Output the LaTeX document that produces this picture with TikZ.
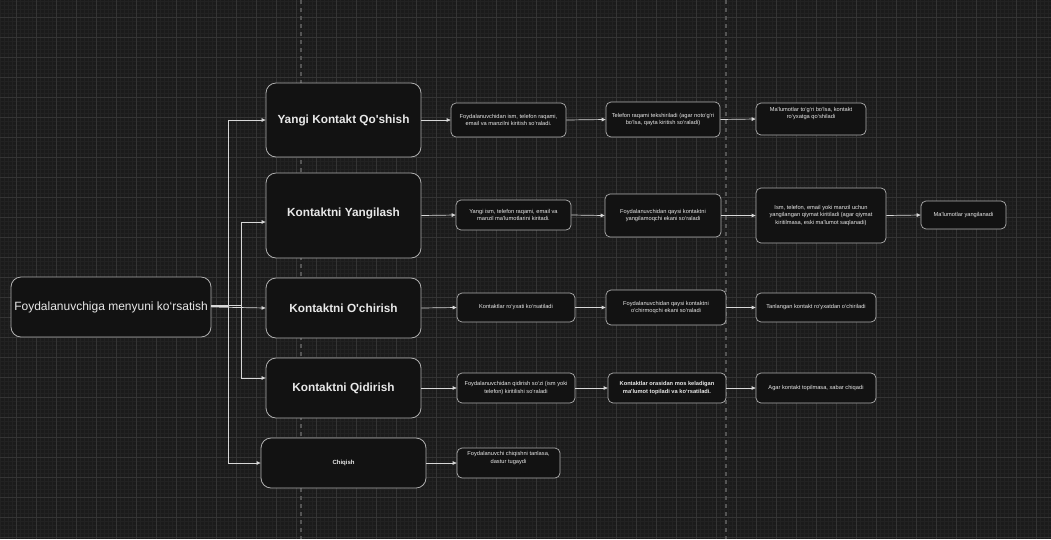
\documentclass[tikz,border=0pt]{standalone}
\usepackage{fontspec}
\setmainfont{Liberation Sans}[Ligatures=TeXOff]
\usetikzlibrary{arrows.meta}
\definecolor{bg}{HTML}{1B1B1B}
\definecolor{gmin}{HTML}{222222}
\definecolor{gmaj}{HTML}{343434}
\definecolor{boxfill}{HTML}{121212}
\definecolor{boxline}{HTML}{B0B0B0}
\definecolor{txt}{HTML}{E8E8E8}
\definecolor{wirec}{HTML}{D8D8D8}
\definecolor{pageline}{HTML}{555555}
\begin{document}
\begin{tikzpicture}[x=1pt,y=-1pt,
 bigbox/.style={draw=boxline, fill=boxfill, rounded corners=10pt, line width=0.8pt, text=txt, font=\bfseries\fontsize{11.8}{14}\selectfont, align=center, inner sep=0pt},
 smallbox/.style={draw=boxline, fill=boxfill, rounded corners=5pt, line width=0.7pt, text=txt, font=\fontsize{5.7}{7.4}\selectfont, align=center, inner sep=0pt},
 wire/.style={draw=wirec, line width=0.7pt, -{Triangle[length=4pt,width=3.5pt]}}]
\fill[bg] (0,0) rectangle (1051,539);
\useasboundingbox (0,0) rectangle (1051,539);
\begin{scope}
\clip (0,0) rectangle (1051,539);
\foreach \i in {0,...,263} {\draw[gmin, line width=0.5pt] (\i*4,0) -- (\i*4,539);}
\foreach \j in {0,...,135} {\draw[gmin, line width=0.5pt] (0,\j*4+1) -- (1051,\j*4+1);}
\foreach \i in {-1,...,52} {\draw[gmaj, line width=1pt] (\i*20+16,0) -- (\i*20+16,539);}
\foreach \j in {-1,...,27} {\draw[gmaj, line width=1pt] (0,\j*20+17) -- (1051,\j*20+17);}
\draw[pageline, line width=1.2pt, dash pattern=on 4pt off 4pt] (301,0) -- (301,539);
\draw[pageline, line width=1.2pt, dash pattern=on 4pt off 4pt] (726,0) -- (726,539);
\end{scope}

\node[bigbox, minimum width=200pt, minimum height=60pt, font=\fontsize{12}{14}\selectfont] (main) at (111,307) {Foydalanuvchiga menyuni ko‘rsatish};
\node[bigbox, minimum width=155pt, minimum height=74pt] (y1) at (343.5,120) {Yangi Kontakt Qo'shish};
\node[bigbox, minimum width=155pt, minimum height=85pt] (y2) at (343.5,215.5) {\raisebox{7pt}{Kontaktni Yangilash}};
\node[bigbox, minimum width=155pt, minimum height=60pt] (y3) at (343.5,308) {Kontaktni O'chirish};
\node[bigbox, minimum width=155pt, minimum height=60pt] (y4) at (343.5,388) {Kontaktni Qidirish};
\node[bigbox, minimum width=165pt, minimum height=50pt, font=\bfseries\fontsize{6}{7}\selectfont] (y5) at (343.5,463) {Chiqish};

\node[smallbox, minimum width=115pt, minimum height=34pt] (a1) at (508.5,120) {Foydalanuvchidan ism, telefon raqami,\\email va manzilni kiritish so‘raladi.};
\node[smallbox, minimum width=114pt, minimum height=35pt] (a2) at (663,119.5) {Telefon raqami tekshiriladi (agar noto‘g‘ri\\bo‘lsa, qayta kiritish so‘raladi)};
\node[smallbox, minimum width=110pt, minimum height=32pt] (a3) at (811,119) {Ma'lumotlar to‘g‘ri bo‘lsa, kontakt\\ro‘yxatga qo‘shiladi\\[5pt]};

\node[smallbox, minimum width=115pt, minimum height=30pt] (b1) at (513.5,215) {Yangi ism, telefon raqami, email va\\manzil ma'lumotlarini kiritadi.};
\node[smallbox, minimum width=116pt, minimum height=43pt] (b2) at (663,215.5) {Foydalanuvchidan qaysi kontaktni\\yangilamoqchi ekani so‘raladi};
\node[smallbox, minimum width=130pt, minimum height=55pt] (b3) at (821,215.5) {Ism, telefon, email yoki manzil uchun\\yangilangan qiymat kiritiladi (agar qiymat\\kiritilmasa, eski ma'lumot saqlanadi)};
\node[smallbox, minimum width=85pt, minimum height=28pt] (b4) at (963.5,215) {Ma'lumotlar yangilanadi};

\node[smallbox, minimum width=118pt, minimum height=29pt] (c1) at (516,307.5) {Kontaktlar ro‘yxati ko‘rsatiladi};
\node[smallbox, minimum width=120pt, minimum height=35pt] (c2) at (666,307.5) {Foydalanuvchidan qaysi kontaktni\\o‘chirmoqchi ekani so‘raladi};
\node[smallbox, minimum width=120pt, minimum height=29pt] (c3) at (816,307.5) {Tanlangan kontakt ro‘yxatdan o‘chiriladi};

\node[smallbox, minimum width=118pt, minimum height=30pt] (d1) at (516,388) {Foydalanuvchidan qidirish so‘zi (ism yoki\\telefon) kiritilishi so‘raladi};
\node[smallbox, minimum width=118pt, minimum height=30pt, font=\bfseries\fontsize{5.7}{7.4}\selectfont] (d2) at (667,388) {Kontaktlar orasidan mos keladigan\\ma'lumot topiladi va ko‘rsatiladi.};
\node[smallbox, minimum width=120pt, minimum height=30pt] (d3) at (816,388) {Agar kontakt topilmasa, xabar chiqadi};

\node[smallbox, minimum width=103pt, minimum height=30pt] (e1) at (508.5,463) {Foydalanuvchi chiqishni tanlasa,\\dastur tugaydi\\[4pt]};

% main fan-out
\draw[wire] ([yshift=1pt]main.east) -- (228,306) |- (y1.west);
\draw[wire] ([yshift=2pt]main.east) -- (241,305) |- ([yshift=-6.5pt]y2.west);
\draw[wire] (main.east) -- (y3.west);
\draw[wire] ([yshift=2pt]main.east) -- (241,305) |- ([yshift=10pt]y4.west);
\draw[wire] ([yshift=1pt]main.east) -- (228,306) |- (y5.west);

% rows
\draw[wire] (y1.east) -- (a1.west);
\draw[wire] (a1.east) -- (a2.west);
\draw[wire] (a2.east) -- (a3.west);
\draw[wire] (y2.east) -- (b1.west);
\draw[wire] (b1.east) -- (b2.west);
\draw[wire] (b2.east) -- (b3.west);
\draw[wire] (b3.east) -- (b4.west);
\draw[wire] (y3.east) -- (c1.west);
\draw[wire] (c1.east) -- (c2.west);
\draw[wire] (c2.east) -- (c3.west);
\draw[wire] (y4.east) -- (d1.west);
\draw[wire] (d1.east) -- (d2.west);
\draw[wire] (d2.east) -- (d3.west);
\draw[wire] (y5.east) -- (e1.west);
\end{tikzpicture}
\end{document}
